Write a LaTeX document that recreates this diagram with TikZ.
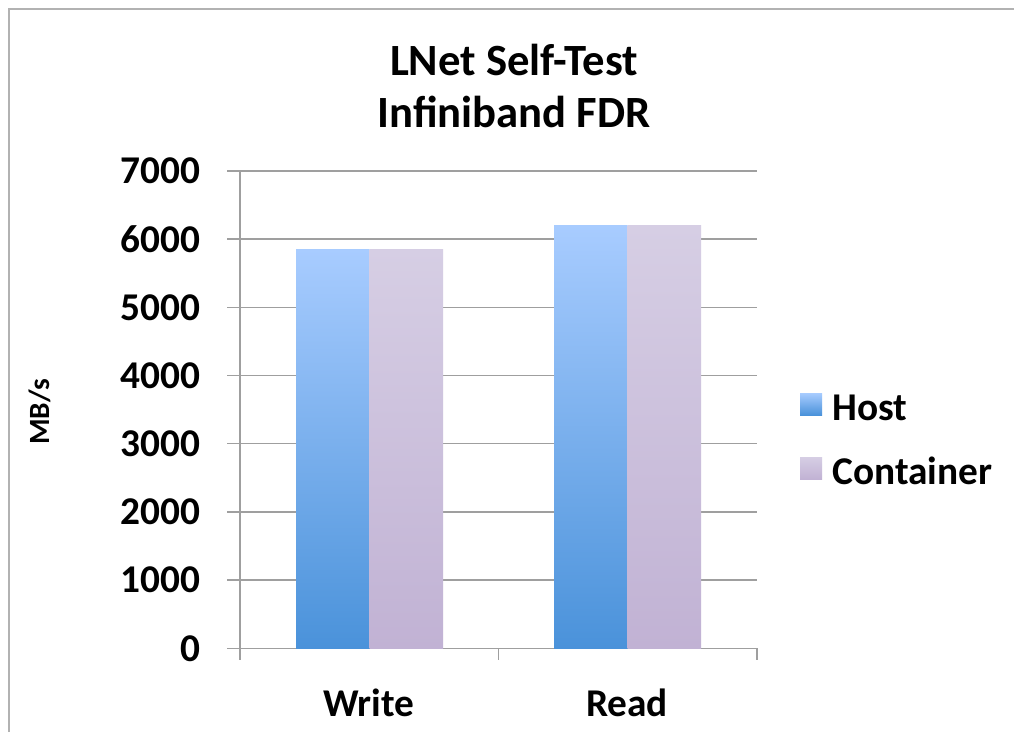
\documentclass[tikz,border=0pt]{standalone}
\usepackage{fontspec}
\setmainfont{Carlito}
\begin{document}
\begin{tikzpicture}[x=0.75pt,y=-0.75pt,
  lbl/.style={font=\fontsize{29.5}{32}\selectfont\bfseries, inner sep=0pt},
  ticklbl/.style={lbl, anchor=east},
  grid/.style={draw=gray!75, line width=1.1pt},
  frame/.style={draw=gray!60, line width=1.5pt},
  hostbar/.style={top color={rgb,255:red,168;green,204;blue,255}, bottom color={rgb,255:red,74;green,146;blue,218}},
  contbar/.style={top color={rgb,255:red,214;green,206;blue,228}, bottom color={rgb,255:red,193;green,178;blue,212}}]
\useasboundingbox (0,0) rectangle (1014,732);
\fill[white] (0,0) rectangle (1014,732);
% frame
\draw[frame] (8.5,732) -- (8.5,8.5) -- (1014,8.5);
% title
\node[lbl, font=\fontsize{33.5}{36}\selectfont\bfseries] (t1) at (514,60) {LNet Self-Test};
\node[lbl, font=\fontsize{33.5}{36}\selectfont\bfseries] (t2) at (514,112) {Infiniband FDR};
% grid lines and y labels
\foreach \v [count=\i from 0] in {0,1000,2000,3000,4000,5000,6000,7000} {
  \draw[grid] (227,{648.3-68.2*\i}) -- (757,{648.3-68.2*\i});
  \node[ticklbl] (y\i) at (201,{648.3-68.2*\i}) {\v};
}
% axis
\draw[grid] (240,171) -- (240,660);
\foreach \x in {498.5,757} \draw[grid] (\x,648.3) -- (\x,660);
% bars
\shade[hostbar] (296,249) rectangle (369.5,648.3);
\shade[contbar] (369.5,249) rectangle (443,648.3);
\shade[hostbar] (554,225.5) rectangle (627.7,648.3);
\shade[contbar] (627.7,225.5) rectangle (701,648.3);
% category labels
\node[lbl] (cw) at (369,703) {Write};
\node[lbl] (cr) at (627,703) {Read};
% y axis title
\node[font=\fontsize{22}{24}\selectfont\bfseries, rotate=90, inner sep=0pt] (yt) at (40,412) {MB/s};
% legend
\shade[hostbar] (800,393) rectangle (822,415);
\shade[contbar] (800,457) rectangle (822,479);
\node[lbl, anchor=west] (lh) at (832,408) {Host};
\node[lbl, anchor=west] (lc) at (832,471) {Container};
\end{tikzpicture}
\end{document}
